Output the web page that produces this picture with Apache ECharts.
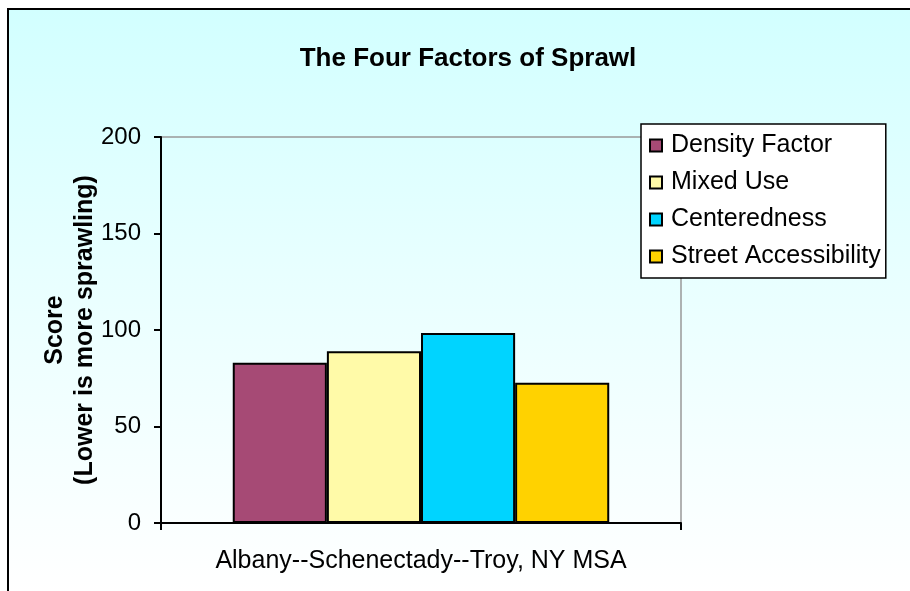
<!DOCTYPE html>
<html>
<head>
<meta charset="utf-8">
<script src="https://cdn.jsdelivr.net/npm/echarts@6/dist/echarts.min.js"></script>
<style>
  html, body { margin: 0; padding: 0; background: #fff; }
  #frame {
    position: absolute; left: 7px; top: 8px; width: 903px; height: 583px;
    border-left: 2px solid #000; border-top: 2px solid #000;
    background: linear-gradient(to bottom, #d2ffff 0%, #e8ffff 45%, #ffffff 100%);
  }
  #chart { position: absolute; left: 0; top: 0; width: 910px; height: 591px; }
</style>
</head>
<body>
<div id="frame"></div>
<div id="chart"></div>
<script>
// metro area (single category)
const categories = ['Albany--Schenectady--Troy, NY MSA'];
// the four factor scores
const densityFactor = [83];
const mixedUse = [89];
const centeredness = [98.5];
const streetAccessibility = [72.7];
// y axis ticks
const yTicks = [0, 50, 100, 150, 200];

const seriesNames = ['Density Factor', 'Mixed Use', 'Centeredness', 'Street Accessibility'];
const seriesData = [densityFactor, mixedUse, centeredness, streetAccessibility];
const seriesColors = ['#a64a75', '#fffaa8', '#00d4ff', '#ffd200'];

const myChart = echarts.init(document.getElementById('chart'));

const font = 'Arial, "Liberation Sans", sans-serif';

const option = {
  backgroundColor: 'transparent',
  animation: false,
  title: {
    text: 'The Four Factors of Sprawl',
    left: 463,
    top: 41,
    textAlign: 'center',
    textStyle: { fontFamily: font, fontSize: 26, fontWeight: 'bold', color: '#000' }
  },
  legend: {
    orient: 'vertical',
    left: 641,
    top: 124,
    padding: [9, 5, 9, 8],
    itemGap: 12,
    itemWidth: 12,
    itemHeight: 12,
    icon: 'rect',
    backgroundColor: '#fff',
    borderColor: '#000',
    borderWidth: 1.5,
    borderRadius: 0,
    textStyle: { fontFamily: font, fontSize: 25, color: '#000', padding: [0, 0, 0, 4] },
    data: seriesNames
  },
  grid: {
    left: 161,
    top: 137,
    right: 229,
    bottom: 68,
    show: true,
    borderColor: '#999',
    borderWidth: 1.5,
    backgroundColor: 'transparent'
  },
  xAxis: {
    type: 'category',
    data: categories,
    axisLine: { lineStyle: { color: '#000', width: 2 } },
    axisTick: { show: true, length: 7, lineStyle: { color: '#000', width: 2 } },
    axisLabel: { fontFamily: font, fontSize: 25, color: '#000', margin: 26 }
  },
  yAxis: {
    type: 'value',
    min: yTicks[0],
    max: yTicks[yTicks.length - 1],
    interval: yTicks[1] - yTicks[0],
    name: 'Score\n(Lower is more sprawling)',
    nameLocation: 'middle',
    nameRotate: 90,
    nameGap: 61,
    nameMoveOverlap: false,
    nameTextStyle: { fontFamily: font, fontSize: 25, fontWeight: 'bold', color: '#000', lineHeight: 30 },
    axisLine: { show: true, lineStyle: { color: '#000', width: 2 } },
    axisTick: { show: true, length: 7, lineStyle: { color: '#000', width: 2 } },
    axisLabel: { fontFamily: font, fontSize: 24, color: '#000', margin: 20 },
    splitLine: { show: false }
  },
  series: seriesNames.map((name, i) => ({
    name: name,
    type: 'bar',
    data: seriesData[i],
    barGap: '0%',
    barCategoryGap: '27.6%',
    itemStyle: { color: seriesColors[i], borderColor: '#000', borderWidth: 2 }
  }))
};

myChart.setOption(option);
</script>
</body>
</html>
